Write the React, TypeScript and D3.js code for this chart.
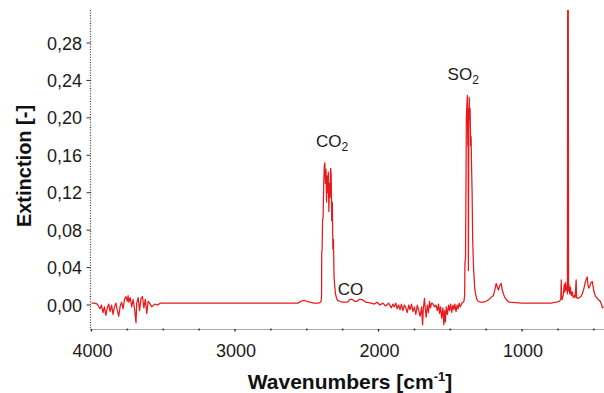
import React from "react";
import * as d3 from "d3";

// Spectrum (wavenumber in cm-1, extinction)
const wavenumbers = [
  4000, 3980, 3960, 3940, 3930, 3920, 3910, 3900, 3890, 3880, 3870, 3860, 3850, 3840, 3830, 3820, 3810, 3800, 3790, 3780,
  3770, 3760, 3750, 3745, 3740, 3730, 3720, 3710, 3700, 3690, 3685, 3675, 3665, 3655, 3645, 3635, 3625, 3615, 3605, 3595,
  3580, 3560, 3540, 3520, 3500, 3300, 3100, 2900, 2700, 2560, 2540, 2520, 2500, 2480, 2450, 2420, 2405, 2400,
  2397, 2396, 2393, 2390, 2386, 2382, 2378, 2374, 2370, 2366, 2362, 2358, 2354, 2350, 2346, 2342, 2338, 2334, 2330, 2326,
  2322, 2318, 2314, 2310, 2305, 2300, 2292, 2285, 2270, 2250, 2230, 2215, 2200, 2185, 2165, 2150, 2135, 2120, 2105, 2090,
  2050, 2030, 2010, 1990, 1970, 1950, 1930, 1910, 1900, 1890, 1880, 1870, 1860, 1850, 1840, 1830, 1820, 1810, 1800, 1790,
  1780, 1770, 1760, 1750, 1740, 1730, 1720, 1710, 1700, 1693, 1688, 1680, 1675, 1668, 1660, 1652, 1645, 1638, 1630, 1620,
  1610, 1600, 1590, 1582, 1575, 1568, 1560, 1552, 1545, 1540, 1534, 1528, 1520, 1512, 1505, 1498, 1490, 1482, 1475, 1468,
  1460, 1452, 1445, 1438, 1430, 1420, 1410, 1405, 1400, 1398, 1394, 1391, 1388, 1384, 1381, 1378, 1376, 1374, 1371, 1368,
  1365, 1362, 1358, 1355, 1352, 1348, 1344, 1338, 1330, 1324, 1315, 1305, 1290, 1270, 1250, 1230, 1210, 1200, 1190, 1180,
  1172, 1165, 1155, 1145, 1138, 1130, 1120, 1105, 1090, 1000, 900, 800, 760, 740, 730, 727, 725, 720, 712, 706,
  702, 697, 692, 688, 684, 682, 678, 676, 673, 668, 663, 657, 650, 643, 636, 630, 623, 620, 612, 600,
  590, 580, 570, 560, 552, 546, 541, 535, 528, 520, 510, 505, 500, 490, 480, 470, 455, 445, 440, 432,
];
const extinction = [
  0.002, 0.002, 0.001, -0.004, 0.0, -0.008, -0.002, -0.011, -0.003, 0.001, -0.007, 0.0, -0.01, -0.002, 0.002, -0.006, -0.012, -0.001, 0.003, -0.004,
  0.006, 0.009, 0.004, 0.01, 0.003, 0.008, -0.002, 0.006, -0.004, -0.019, 0.002, 0.008, -0.006, 0.007, 0.009, -0.003, 0.006, -0.009, 0.004, 0.002,
  -0.002, 0.001, 0.0, 0.002, 0.002, 0.002, 0.002, 0.002, 0.002, 0.002, 0.004, 0.005, 0.004, 0.003, 0.002, 0.002, 0.003, 0.004,
  0.01, 0.055, 0.06, 0.09, 0.095, 0.13, 0.148, 0.152, 0.13, 0.145, 0.11, 0.138, 0.12, 0.142, 0.1, 0.13, 0.115, 0.146, 0.14, 0.09,
  0.11, 0.06, 0.07, 0.03, 0.02, 0.012, 0.007, 0.005, 0.004, 0.003, 0.003, 0.003, 0.006, 0.006, 0.004, 0.004, 0.006, 0.006, 0.005, 0.003,
  0.002, 0.001, 0.003, 0.0, 0.002, -0.001, 0.002, -0.003, 0.001, -0.002, 0.002, -0.004, 0.0, -0.005, 0.001, -0.006, 0.0, -0.003, -0.008, 0.0,
  -0.005, 0.001, -0.007, -0.002, -0.01, 0.0, -0.006, -0.012, -0.002, -0.021, -0.004, 0.007, -0.003, -0.013, 0.0, -0.008, 0.004, -0.003, 0.002, 0.001,
  -0.002, 0.0, -0.006, 0.001, -0.009, -0.002, -0.014, -0.003, -0.021, -0.006, -0.018, -0.002, -0.01, 0.0, -0.006, 0.001, -0.008, 0.0, -0.005, 0.001,
  -0.007, 0.0, -0.004, 0.002, -0.002, 0.002, 0.003, 0.004, 0.01, 0.045, 0.05, 0.12, 0.2, 0.215, 0.224, 0.17, 0.21, 0.037, 0.19, 0.222,
  0.2, 0.21, 0.17, 0.18, 0.15, 0.12, 0.07, 0.04, 0.018, 0.012, 0.006, 0.004, 0.003, 0.003, 0.004, 0.006, 0.009, 0.01, 0.016, 0.023,
  0.019, 0.016, 0.021, 0.023, 0.016, 0.012, 0.008, 0.005, 0.003, 0.002, 0.002, 0.002, 0.003, 0.004, 0.006, 0.027, 0.008, 0.006, 0.012, 0.022,
  0.014, 0.024, 0.016, 0.02, 0.012, 0.35, 0.35, 0.015, 0.022, 0.012, 0.019, 0.01, 0.014, 0.008, 0.01, 0.008, 0.027, 0.008, 0.007, 0.008,
  0.009, 0.012, 0.017, 0.024, 0.028, 0.03, 0.022, 0.018, 0.02, 0.024, 0.025, 0.02, 0.015, 0.01, 0.008, 0.006, 0.004, 0.0, -0.003, -0.002,
];

const yTickValues = [0, 0.04, 0.08, 0.12, 0.16, 0.2, 0.24, 0.28];
const xTickValues = [4000, 3000, 2000, 1000];
const xMinorTickValues = [3750, 3500, 3250, 2750, 2500, 2250, 1750, 1500, 1250, 750, 500];
const labelTexts = ["CO", "SO", "CO"];
const labelSubs = ["2", "2", ""];
const labelWn = [2436, 1519, 2285];
const labelVal = [0.169, 0.2405, 0.0107];

const W = 604;
const H = 393;
const plotTop = 10;
const plotBottom = 330;
const axisX = 90.5;

export default function App() {
  const x = d3.scaleLinear().domain([4000, 429]).range([91.5, 604]);
  const y = d3.scaleLinear().domain([-0.0267, 0.3153]).range([plotBottom, plotTop]);
  const pts = wavenumbers.map((w, i) => [w, extinction[i]] as [number, number]);
  const line = d3
    .line<[number, number]>()
    .x((d) => x(d[0]))
    .y((d) => y(d[1]));
  const fmt = (v: number) => v.toFixed(2).replace(".", ",");
  const font = "'Liberation Sans', Arial, Helvetica, sans-serif";
  return (
    <svg
      width={W}
      height={H}
      style={{ position: "absolute", left: 0, top: 0, background: "#fff" }}
      fontFamily={font}
    >
      <defs>
        <clipPath id="plotclip">
          <rect x={axisX} y={plotTop} width={W - axisX} height={plotBottom - plotTop} />
        </clipPath>
      </defs>
      {/* x axis */}
      <line x1={axisX} x2={W} y1={plotBottom - 0.5} y2={plotBottom - 0.5} stroke="#aaa" strokeWidth={1} />
      {xMinorTickValues.map((t) => (
        <circle key={"m" + t} cx={x(t)} cy={plotBottom - 0.5} r={1} fill="#333" />
      ))}
      {xTickValues.map((t) => (
        <g key={"x" + t}>
          <line x1={x(t)} x2={x(t)} y1={plotBottom - 1} y2={plotBottom + 1.5} stroke="#222" strokeWidth={1.3} />
          <text x={x(t) + 1} y={357} textAnchor="middle" fontSize={18} fill="#1a1a1a">
            {t}
          </text>
        </g>
      ))}
      {/* y axis */}
      <line
        x1={axisX}
        x2={axisX}
        y1={plotTop}
        y2={plotBottom}
        stroke="#333"
        strokeWidth={1.2}
        strokeDasharray="1,1.6"
      />
      {yTickValues.map((t) => (
        <g key={"y" + t}>
          <line x1={axisX - 4} x2={axisX} y1={y(t)} y2={y(t)} stroke="#333" strokeWidth={1} />
          <text x={82} y={y(t) + 6.5} textAnchor="end" fontSize={18} fill="#1a1a1a">
            {fmt(t)}
          </text>
        </g>
      ))}
      {/* spectrum */}
      <path
        d={line(pts) || ""}
        fill="none"
        stroke="#e8191b"
        strokeWidth={1.25}
        strokeLinejoin="round"
        clipPath="url(#plotclip)"
      />
      {/* band labels */}
      {labelTexts.map((t, i) => (
        <text key={"l" + i} x={x(labelWn[i])} y={y(labelVal[i])} fontSize={17} fill="#1a1a1a">
          {t}
          {labelSubs[i] ? (
            <tspan dy={4} fontSize={12}>
              {labelSubs[i]}
            </tspan>
          ) : null}
        </text>
      ))}
      {/* axis titles */}
      <text x={350} y={389} textAnchor="middle" fontSize={21} fontWeight="bold" fill="#111">
        Wavenumbers [cm
        <tspan dy={-8} fontSize={13}>
          -1
        </tspan>
        <tspan dy={8}>]</tspan>
      </text>
      <text
        transform="translate(31,166) rotate(-90)"
        textAnchor="middle"
        fontSize={20}
        fontWeight="bold"
        fill="#111"
      >
        Extinction [-]
      </text>
    </svg>
  );
}
